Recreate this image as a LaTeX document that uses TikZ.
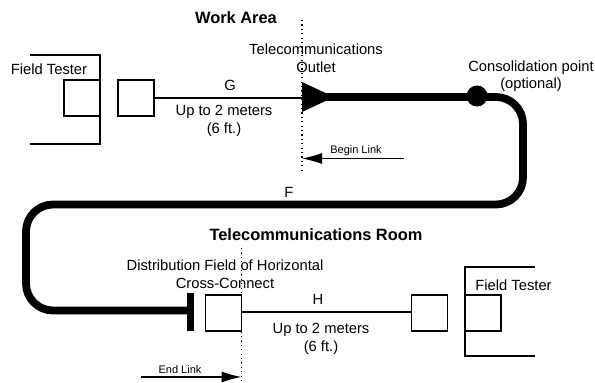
\documentclass[tikz,border=0pt]{standalone}
\usepackage{fontspec}
\setmainfont{Liberation Sans}
\usetikzlibrary{arrows.meta,shapes.geometric}
\tikzset{
  box/.style={draw,line width=1.3pt,minimum width=36pt,minimum height=36pt,inner sep=0pt,outer sep=0pt},
  txt/.style={inner sep=0pt,align=center,font=\fontsize{14.75}{17.5}\selectfont},
  head/.style={inner sep=0pt,font=\fontsize{16.4}{18}\selectfont\bfseries},
  small/.style={inner sep=0pt,font=\fontsize{11}{13}\selectfont},
  thin line/.style={line width=1.3pt},
  cable/.style={line width=7.8pt,rounded corners=27pt},
  dots/.style={line width=1.2pt,dash pattern=on 1.2pt off 3.2pt},
  link/.style={line width=1.2pt,-{Latex[length=20pt,width=11pt]},shorten >=0pt}
}
\begin{document}
\begin{tikzpicture}[x=1pt,y=-1pt]
\useasboundingbox (0,0) rectangle (595,383);
% boxes
\node[box] (t1) at (82,98) {};
\node[box] (b1) at (136,98) {};
\node[box] (b2) at (223.5,313) {};
\node[box] (b3) at (429.5,313) {};
\node[box] (t2) at (483,313) {};
% coordinates
\coordinate (oa) at (302,98);
\coordinate (ob) at (302,82);
\coordinate (oc) at (302,112);
\coordinate (od) at (334,97);
\coordinate (os) at (322,97);
\node[circle,fill=black,minimum size=21pt,inner sep=0pt] (cp) at (477,96) {};
\node[fill=black,minimum width=7pt,minimum height=38pt,inner sep=0pt] (bar) at (190.5,312) {};
% tester brackets
\draw[thin line] (30,55) -| (100,144) -- (30,144);
\draw[thin line] (535,267) -| (465,356) -- (535,356);
% dotted
\coordinate (d1a) at (302,20); \coordinate (d1b) at (302,172);
\coordinate (d2a) at (241.5,248); \coordinate (d2b) at (241.5,383);
\draw[dots] (d1a) -- (d1b);
\draw[dots] (d2a) -- (d2b);
% thin connectors
\draw[thin line] (b1.east |- oa) -- (oa);
\draw[thin line] (b2.east |- 0,312) -- (b3.west |- 0,312);
% outlet
\fill (ob) -- (od) -- (oc) -- cycle;
% cable
\draw[cable] (os) -- (523,97) -- (523,204.5) -- (26,204.5) -- (26,310.5) -- (bar.center |- 0,310.5);
% link arrows
\coordinate (bl) at (404,158.5); \coordinate (blt) at (302,158.5);
\coordinate (el) at (141,377); \coordinate (elt) at (241.5,377);
\draw[link] (bl) -- (blt);
\draw[link] (el) -- (elt);
% texts
\node[head] (wa) at (236,18) {Work Area};
\node[txt] (to) at (316,58) {Telecommunications\\Outlet};
\node[txt] (ft1) at (49,69) {Field Tester};
\node[txt] (g) at (230,85) {G};
\node[txt] (u1) at (224,121) {Up to 2 meters\\(6 ft.)};
\node[txt] (cpl) at (531,76) {Consolidation point\\(optional)};
\node[small] (bll) at (356,151) {Begin Link};
\node[txt] (f) at (289,192) {F};
\node[head] (tr) at (316,235) {Telecommunications Room};
\node[txt] (df) at (225,274) {Distribution Field of Horizontal\\Cross-Connect};
\node[txt] (h) at (318,299) {H};
\node[txt] (u2) at (321,339) {Up to 2 meters\\(6 ft.)};
\node[txt] (ft2) at (513.5,285) {Field Tester};
\node[small] (ell) at (180,369.5) {End Link};
\end{tikzpicture}
\end{document}
